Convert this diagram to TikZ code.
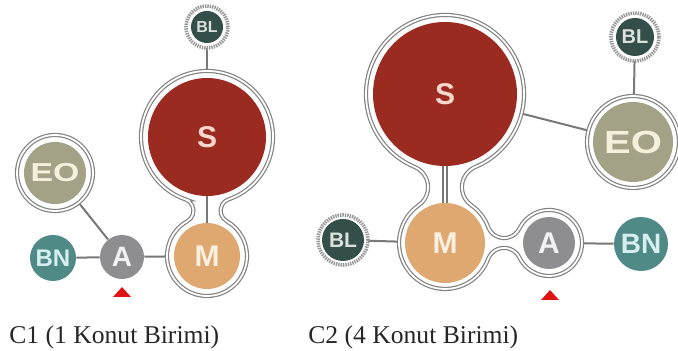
\documentclass[tikz,border=0pt]{standalone}
\usepackage{fontspec}
\setmainfont{Liberation Serif}
\setsansfont{Liberation Sans}
\usepackage{graphicx}
\definecolor{kred}{RGB}{155, 42, 33}
\definecolor{kredtext}{RGB}{250, 215, 205}
\definecolor{ktan}{RGB}{222, 168, 112}
\definecolor{ktantext}{RGB}{250, 240, 225}
\definecolor{kolive}{RGB}{164, 162, 134}
\definecolor{kolivetext}{RGB}{245, 240, 220}
\definecolor{kgray}{RGB}{142, 142, 144}
\definecolor{kgraytext}{RGB}{242, 242, 242}
\definecolor{kteal}{RGB}{80, 138, 134}
\definecolor{ktealtext}{RGB}{215, 238, 240}
\definecolor{kslate}{RGB}{52, 78, 73}
\definecolor{kslatetext}{RGB}{220, 225, 222}
\definecolor{ringgray}{RGB}{130, 130, 130}
\definecolor{dotgray}{RGB}{150, 150, 150}
\definecolor{linkgray}{RGB}{120, 120, 120}
\definecolor{kmark}{RGB}{225, 20, 20}
\pgfdeclarelayer{links}
\pgfdeclarelayer{rings}
\pgfsetlayers{links,rings,main}

\begin{document}
\begin{tikzpicture}[x=0.5pt, y=0.5pt,
  unit/.style={circle, inner sep=0pt, draw=none},
  ring/.style={draw=ringgray, line width=0.6pt, double=white, double distance=0.9pt, fill=white},
  blring/.style={draw=dotgray, line width=1.8pt, dash pattern=on 0.7pt off 0.5pt, fill=white},
  link/.style={draw=linkgray, line width=1pt},
  dlink/.style={draw=linkgray, line width=0.7pt, double=white, double distance=1.2pt},
  caption/.style={inner sep=0pt, anchor=base west, text=black!85, font=\fontsize{12.8}{15}\selectfont}]
\useasboundingbox (0,0) rectangle (678,351);

% C1 units
\node[unit, fill=kslate, text=kslatetext, minimum size=16pt, font=\sffamily\bfseries\fontsize{8}{9}\selectfont] (BL1) at (207,324) {BL};
\node[unit, fill=kred, text=kredtext, minimum size=59pt, font=\sffamily\bfseries\fontsize{15}{16}\selectfont] (S1) at (207,214) {S};
\node[unit, fill=ktan, text=ktantext, minimum size=33pt, font=\sffamily\bfseries\fontsize{15}{16}\selectfont] (M1) at (207,95) {M};
\node[unit, fill=kolive, text=kolivetext, minimum size=31pt, font=\sffamily\bfseries\fontsize{13}{14}\selectfont] (EO1) at (55,178) {\scalebox{1.3}[1]{EO}};
\node[unit, fill=kteal, text=ktealtext, minimum size=23pt, font=\sffamily\bfseries\fontsize{12}{13}\selectfont] (BN1) at (53,93) {BN};
\node[unit, fill=kgray, text=kgraytext, minimum size=22pt, font=\sffamily\bfseries\fontsize{14}{15}\selectfont] (A1) at (122,94) {A};

% C2 units
\node[unit, fill=kred, text=kredtext, minimum size=72pt, font=\sffamily\bfseries\fontsize{15}{16}\selectfont] (S2) at (445,257) {S};
\node[unit, fill=ktan, text=ktantext, minimum size=40pt, font=\sffamily\bfseries\fontsize{15}{16}\selectfont] (M2) at (445,108) {M};
\node[unit, fill=kgray, text=kgraytext, minimum size=26pt, font=\sffamily\bfseries\fontsize{15}{16}\selectfont] (A2) at (549,108) {A};
\node[unit, fill=kolive, text=kolivetext, minimum size=40pt, font=\sffamily\bfseries\fontsize{16}{17}\selectfont] (EO2) at (633,209) {\scalebox{1.25}[1]{EO}};
\node[unit, fill=kslate, text=kslatetext, minimum size=19pt, font=\sffamily\bfseries\fontsize{10}{11}\selectfont] (BL2a) at (635,314) {BL};
\node[unit, fill=kslate, text=kslatetext, minimum size=21pt, font=\sffamily\bfseries\fontsize{10.5}{11}\selectfont] (BL2b) at (343,111) {BL};
\node[unit, fill=kteal, text=ktealtext, minimum size=27pt, font=\sffamily\bfseries\fontsize{14}{15}\selectfont] (BN2) at (641,107) {BN};

% Connections
\begin{pgfonlayer}{links}
\draw[link] (BL1) -- (S1);
\draw[link] (EO1) -- (A1);
\draw[link] (BN1) -- (A1);
\draw[link] (A1) -- (M1);
\draw[link] (BL2a) -- (EO2);
\draw[link] (S2) -- (EO2);
\draw[link] (BL2b) -- (M2);
\draw[link] (A2) -- (BN2);
\end{pgfonlayer}

% Outlines
\begin{pgfonlayer}{rings}
\draw[ring] (S1.center) ++(250.89:66) arc[start angle=70.89, end angle=-60.58, radius=12]
  arc[start angle=119.42, end angle=420.58, radius=40]
  arc[start angle=240.58, end angle=109.11, radius=12]
  arc[start angle=289.11, end angle=610.89, radius=66] -- cycle;
\draw[link] (S1) -- (M1);
\draw[ring] (EO1) circle[radius=38];
\draw[blring] (BL1) circle[radius=21];

\draw[ring] (S2.center) ++(247.35:79) arc[start angle=67.35, end angle=-55.11, radius=22]
  arc[start angle=124.89, end angle=339.63, radius=46]
  arc[start angle=159.63, end angle=26.01, radius=17]
  arc[start angle=206.01, end angle=513.99, radius=33]
  arc[start angle=-26.01, end angle=-159.63, radius=17]
  arc[start angle=20.37, end angle=55.11, radius=46]
  arc[start angle=235.11, end angle=112.65, radius=22]
  arc[start angle=292.65, end angle=607.35, radius=79] -- cycle;
\draw[dlink] (S2) -- (M2);
\draw[ring] (EO2) circle[radius=46];
\draw[blring] (BL2a) circle[radius=24];
\draw[blring] (BL2b) circle[radius=25];
\end{pgfonlayer}

% Entrance markers
\fill[kmark] (122,64) -- (113,54) -- (131,54) -- cycle;
\fill[kmark] (550,61) -- (541,51) -- (559,51) -- cycle;

% Captions
\node[caption] (cap1) at (9,7) {C1 (1 Konut Birimi)};
\node[caption] (cap2) at (308,7) {C2 (4 Konut Birimi)};
\end{tikzpicture}
\end{document}
